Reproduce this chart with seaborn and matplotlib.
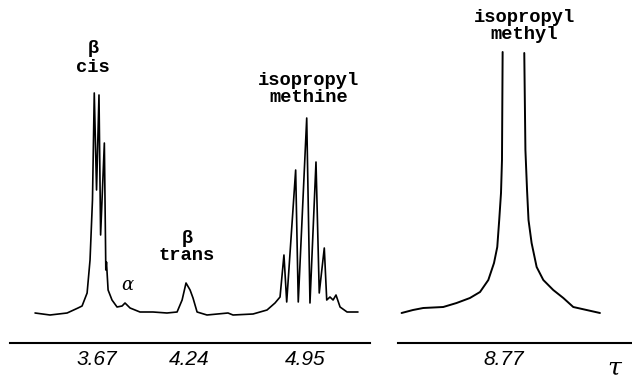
import matplotlib
matplotlib.use("Agg")
import matplotlib.pyplot as plt
import seaborn as sns
import pandas as pd

# NMR trace (tau scale, intensity in arbitrary units, baseline = 0)
tau_left = [3.291, 3.383, 3.488, 3.555, 3.580, 3.611, 3.629, 3.644, 3.655, 3.669,
            3.684, 3.694, 3.717, 3.726, 3.730, 3.740, 3.764, 3.795, 3.826, 3.844,
            3.875, 3.936, 4.016, 4.102, 4.164, 4.195, 4.219, 4.244, 4.262, 4.287,
            4.348, 4.477, 4.508, 4.631, 4.717, 4.766, 4.797, 4.821, 4.838, 4.893,
            4.909, 4.961, 4.981, 5.018, 5.038, 5.069, 5.084, 5.104, 5.123, 5.141,
            5.166, 5.209, 5.276]
int_left = [1, -1, 1, 6, 8, 21, 54, 114, 221, 124,
            219, 79, 171, 44, 52, 24, 14, 7, 8, 11,
            6, 2, 2, 1, 2, 14, 31, 24, 16, 2,
            -1, 1, -1, 0, 4, 11, 17, 59, 12, 144,
            12, 196, 11, 152, 21, 66, 14, 17, 14, 19,
            7, 2, 2]

# methyl doublet goes off the chart, so the trace is in two pieces
tau_right = [8.139, 8.209, 8.272, 8.395, 8.477, 8.559, 8.621, 8.672, 8.707, 8.727,
             8.739, 8.750, 8.756, 8.760,
             8.893, 8.900, 8.910, 8.919, 8.938, 8.969, 9.010, 9.071, 9.133, 9.194,
             9.276, 9.358]
int_right = [1, 4, 6, 7, 11, 16, 22, 34, 51, 67,
             94, 121, 154, 262,
             261, 164, 124, 94, 71, 47, 34, 24, 16, 7,
             4, 1]
piece_right = [0] * 14 + [1] * 12

ticks_left = [3.67, 4.24, 4.95]
ticks_right = [8.77]

df_left = pd.DataFrame({"tau": tau_left, "intensity": int_left})
df_right = pd.DataFrame({"tau": tau_right, "intensity": int_right, "piece": piece_right})

sns.set_style("white")
plt.rcParams["font.family"] = ["DejaVu Sans"]
plt.rcParams["text.color"] = "black"
plt.rcParams["xtick.color"] = "black"

fig = plt.figure(figsize=(6.32, 3.79), dpi=100)
ax1 = fig.add_axes([10 / 632, 36 / 379, 360 / 632, 343 / 379])
ax2 = fig.add_axes([398 / 632, 36 / 379, 234 / 632, 343 / 379])

sns.lineplot(data=df_left, x="tau", y="intensity", color="black", lw=1.2,
             sort=False, estimator=None, ax=ax1)
sns.lineplot(data=df_right, x="tau", y="intensity", units="piece", color="black",
             lw=1.4, sort=False, estimator=None, ax=ax2)

ax1.set_xlim(3.137, 5.350)
ax2.set_xlim(8.117, 9.555)

for ax, ticks in [(ax1, ticks_left), (ax2, ticks_right)]:
    ax.set_ylim(-29, 314)
    ax.set_xticks(ticks)
    ax.set_xticklabels([f"{t:.2f}" for t in ticks], fontsize=15,
                       family="Liberation Sans", style="italic")
    ax.set_yticks([])
    ax.set_xlabel("")
    ax.set_ylabel("")
    ax.tick_params(axis="x", direction="in", length=4, width=1.5,
                   color="black", labelcolor="black", pad=5)
    for side in ["top", "left", "right"]:
        ax.spines[side].set_visible(False)
    ax.spines["bottom"].set_color("black")
    ax.spines["bottom"].set_linewidth(1.5)
    ax.patch.set_alpha(0)

# Peak labels
mono = dict(family="Liberation Mono", fontsize=13.5, weight="bold", ha="center",
            va="center", multialignment="center", color="black", clip_on=False)
ax1.text(3.648, 256, "β\ncis", linespacing=1.2, **mono)
ax1.text(3.856, 29, "α", family="DejaVu Serif", fontsize=13, style="italic",
         color="black", ha="center", va="center")
ax1.text(4.225, 67, "β\ntrans", linespacing=1.05, **mono)
ax1.text(4.975, 225, "isopropyl\nmethine", linespacing=1.05, **mono)
ax2.text(8.894, 288, "isopropyl\nmethyl", linespacing=0.93, **mono)
ax2.text(9.444, -54, "τ", fontsize=18, family="DejaVu Serif", style="italic",
         color="black", ha="center", va="center", clip_on=False)

plt.savefig("out.png", dpi=100)
